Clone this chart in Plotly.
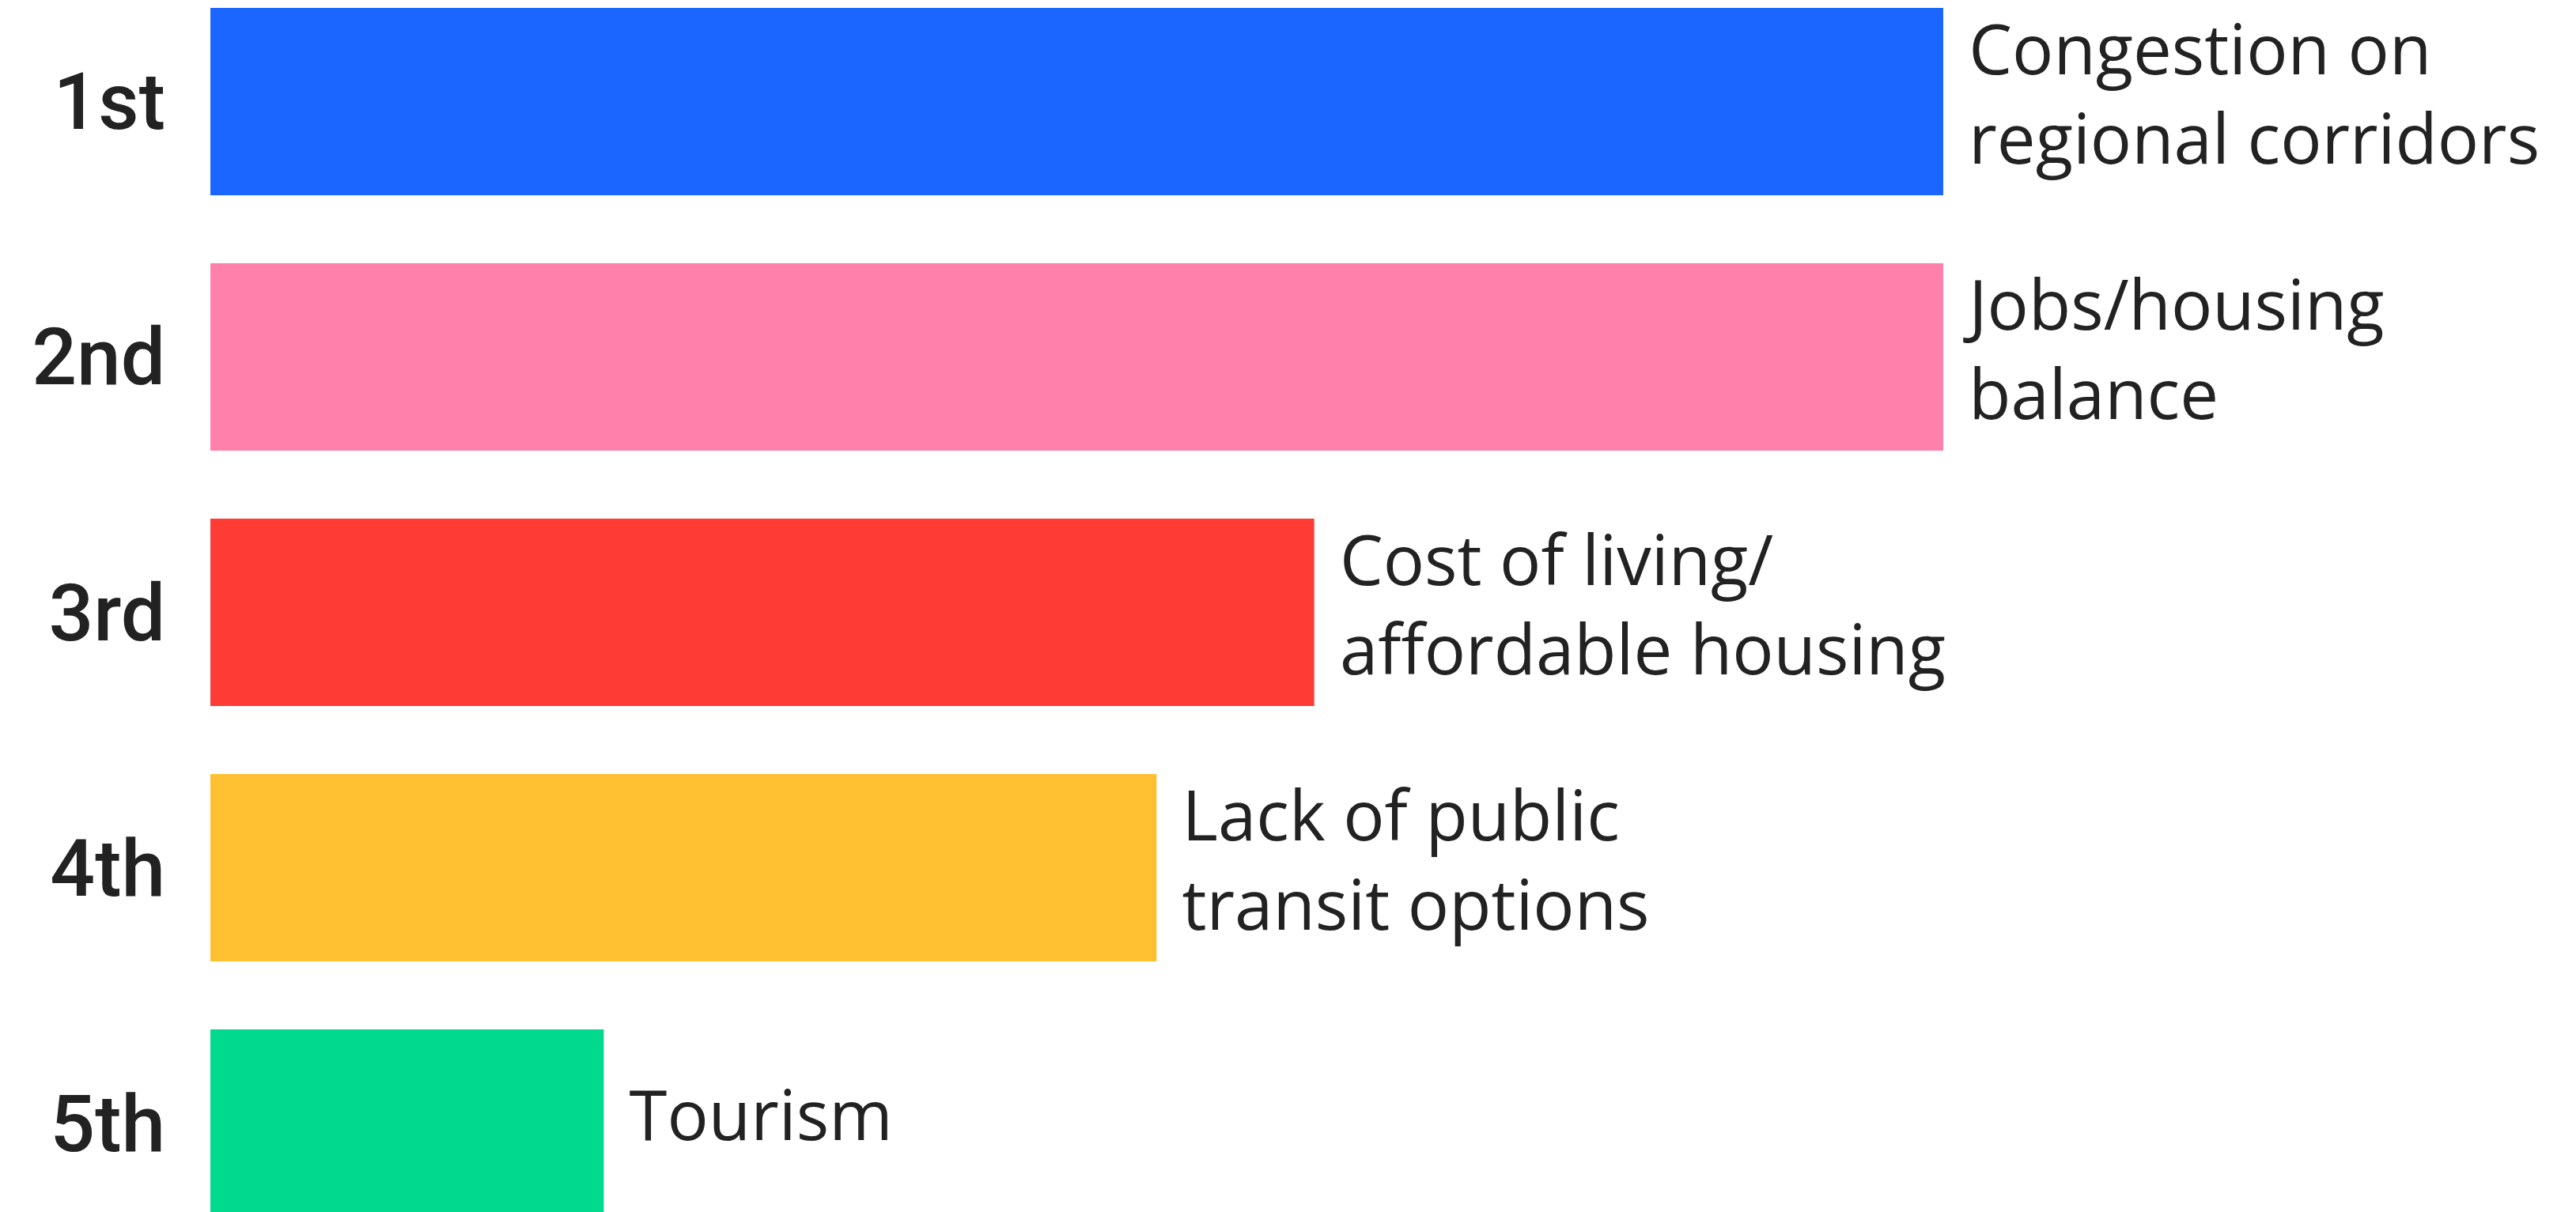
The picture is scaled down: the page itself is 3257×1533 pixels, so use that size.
import plotly.graph_objects as go

ranks = ["1st", "2nd", "3rd", "4th", "5th"]
values = [100, 100, 63.7, 54.6, 22.7]
labels = [
    "Congestion on<br>regional corridors",
    "Jobs/housing<br>balance",
    "Cost of living/<br>affordable housing",
    "Lack of public<br>transit options",
    "Tourism",
]
colors = ["#1A66FF", "#FF80AA", "#FF3B36", "#FFC132", "#00D98E"]

fig = go.Figure()
fig.add_trace(go.Bar(
    x=values, y=ranks, orientation="h",
    marker=dict(color=colors, line=dict(width=0)),
    width=0.734, showlegend=False, hoverinfo="skip",
))
fig.add_trace(go.Scatter(
    x=values, y=ranks, mode="markers+text",
    text=labels, textposition="middle right",
    marker=dict(size=50, opacity=0),
    textfont=dict(family="Open Sans", size=87, color="#222222"),
    showlegend=False, hoverinfo="skip", cliponaxis=False,
))

W, H = 3257, 1533
L = 258
fig.update_layout(
    width=W, height=H,
    margin=dict(l=L, r=0, t=0, b=0),
    paper_bgcolor="white", plot_bgcolor="white",
    xaxis=dict(range=[0, 100 * (W - L) / 2191], visible=False, fixedrange=True),
    yaxis=dict(
        range=[4.373, -0.373], showgrid=False, zeroline=False, showline=False,
        ticks="outside", ticklen=36, tickcolor="rgba(0,0,0,0)",
        tickfont=dict(family="Roboto", size=100, color="#222222", weight=500),
        automargin=False,
    ),
)
fig.write_html("out.html")
